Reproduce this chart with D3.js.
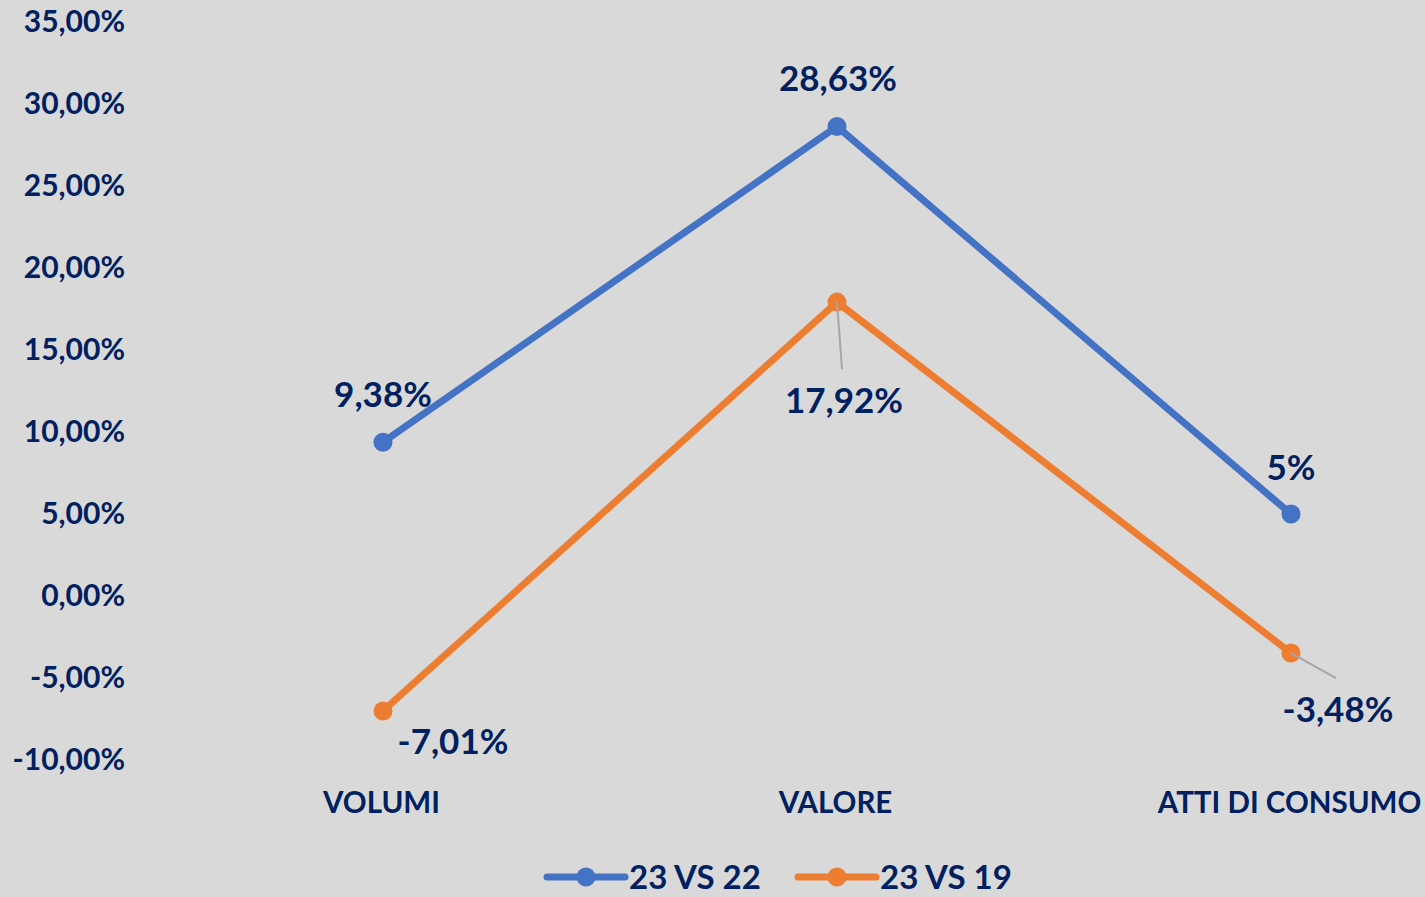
<!DOCTYPE html>
<html>
<head>
<meta charset="utf-8">
<script src="https://cdn.jsdelivr.net/npm/d3@7"></script>
<style>
  html, body { margin: 0; padding: 0; background: #d9d9d9; }
  svg { display: block; }
  text { font-family: Lato, "Open Sans", sans-serif; font-weight: 700; fill: #002060; }
</style>
</head>
<body>
<svg id="chart" width="1425" height="897"></svg>
<script>
const categories = ["VOLUMI", "VALORE", "ATTI DI CONSUMO"];
const seriesNames = ["23 VS 22", "23 VS 19"];
const series2322 = [9.38, 28.63, 5];
const series2319 = [-7.01, 17.92, -3.48];
const labels2322 = ["9,38%", "28,63%", "5%"];
const labels2319 = ["-7,01%", "17,92%", "-3,48%"];
const yTicks = [35, 30, 25, 20, 15, 10, 5, 0, -5, -10];
const colors = ["#4472c4", "#ed7d31"];

const W = 1425, H = 897;
const svg = d3.select("#chart");
svg.append("rect").attr("width", W).attr("height", H).attr("fill", "#d9d9d9");

const x = d3.scalePoint().domain(categories).range([156, 1518]).padding(0.5);
const y = d3.scaleLinear().domain([-10, 35]).range([760, 22]);

const fmtTick = v => v.toFixed(2).replace(".", ",") + "%";

// Y axis labels
const yAxis = d3.axisLeft(y).tickValues(yTicks).tickFormat(fmtTick).tickSize(0).tickPadding(0);
const gy = svg.append("g").attr("transform", "translate(125,0)").call(yAxis);
gy.select(".domain").remove();
gy.selectAll("text").attr("font-size", 30).attr("fill", "#002060")
  .attr("font-family", "Lato, 'Open Sans', sans-serif").attr("font-weight", 700);

// X axis labels
const xAxis = d3.axisBottom(x).tickSize(0).tickPadding(0);
const gx = svg.append("g").attr("transform", "translate(-2,792)").call(xAxis);
gx.select(".domain").remove();
gx.selectAll("text").attr("font-size", 29.5).attr("fill", "#002060")
  .attr("font-family", "Lato, 'Open Sans', sans-serif").attr("font-weight", 700);

const data = [series2322, series2319];
const line = d3.line().x((d, i) => x(categories[i])).y(d => y(d));

data.forEach((vals, s) => {
  svg.append("path").datum(vals).attr("d", line)
    .attr("fill", "none").attr("stroke", colors[s]).attr("stroke-width", 7)
    .attr("stroke-linejoin", "round").attr("stroke-linecap", "round");
});
data.forEach((vals, s) => {
  svg.selectAll(null).data(vals).enter().append("circle")
    .attr("cx", (d, i) => x(categories[i])).attr("cy", d => y(d)).attr("r", 9.5)
    .attr("fill", colors[s]);
});

// Leader lines (gray)
const leaders = [
  { i: 1, v: series2319[1], dx: 5, dy: 67 },
  { i: 2, v: series2319[2], dx: 45, dy: 25 }
];
leaders.forEach(l => {
  const px = x(categories[l.i]), py = y(l.v);
  svg.append("line").attr("x1", px).attr("y1", py).attr("x2", px + l.dx).attr("y2", py + l.dy)
    .attr("stroke", "#a6a6a6").attr("stroke-width", 2);
});

// Data labels (offsets relative to points)
const offs2322 = [[0, -48], [1, -48], [0, -47]];
const offs2319 = [[70, 30], [7, 98], [47, 56]];
function drawLabels(vals, labs, offs) {
  svg.selectAll(null).data(vals).enter().append("text")
    .attr("x", (d, i) => x(categories[i]) + offs[i][0])
    .attr("y", (d, i) => y(d) + offs[i][1])
    .attr("dy", "0.36em").attr("text-anchor", "middle").attr("font-size", 35)
    .text((d, i) => labs[i]);
}
drawLabels(series2322, labels2322, offs2322);
drawLabels(series2319, labels2319, offs2319);

// Legend
const legend = [{ x0: 547, name: seriesNames[0], c: colors[0] }, { x0: 798, name: seriesNames[1], c: colors[1] }];
legend.forEach(l => {
  const g = svg.append("g").attr("transform", `translate(${l.x0},877)`);
  g.append("line").attr("x1", 0).attr("x2", 78).attr("y1", 0).attr("y2", 0)
    .attr("stroke", l.c).attr("stroke-width", 7).attr("stroke-linecap", "round");
  g.append("circle").attr("cx", 39).attr("cy", 0).attr("r", 9.5).attr("fill", l.c);
  g.append("text").attr("x", 82).attr("y", 0).attr("dy", "0.36em").attr("font-size", 33).text(l.name);
});
</script>
</body>
</html>
